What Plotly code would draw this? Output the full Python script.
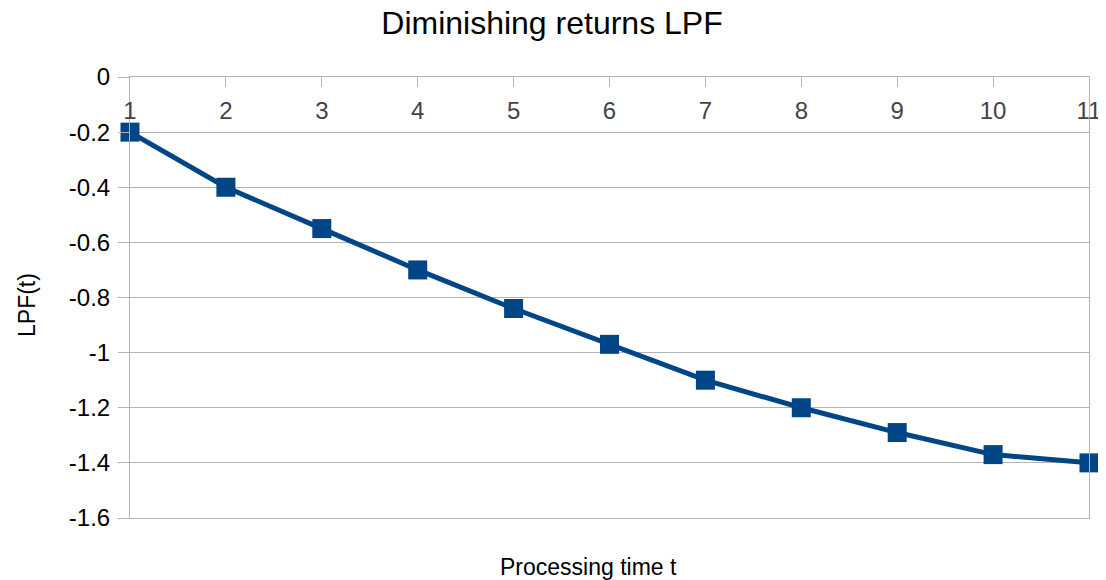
import plotly.graph_objects as go

t_values = [1, 2, 3, 4, 5, 6, 7, 8, 9, 10, 11]
lpf_values = [-0.2, -0.4, -0.55, -0.7, -0.84, -0.97, -1.1, -1.2, -1.29, -1.37, -1.4]
y_ticks = [0, -0.2, -0.4, -0.6, -0.8, -1, -1.2, -1.4, -1.6]
y_tick_labels = ["0", "-0.2", "-0.4", "-0.6", "-0.8", "-1", "-1.2", "-1.4", "-1.6"]

color = "#004586"
grid = "#b3b3b3"
font = "Liberation Sans"

# page body has an 8px margin; work in figure coordinates (reference - 8)
OFF = 8
W, H = 1106 - OFF, 580 - OFF
L, T = 130 - OFF, 77 - OFF
R = W - (1089 - OFF)
B = H - (518 - OFF)
pw, ph = W - L - R, H - T - B


def px_x(x):
    return (x - OFF - L) / pw


def px_y(y):
    return (H - B - (y - OFF)) / ph


fig = go.Figure()
fig.add_trace(go.Scatter(
    x=t_values, y=lpf_values, mode="lines+markers",
    line=dict(color=color, width=5),
    marker=dict(symbol="square", size=19, color=color),
    showlegend=False, cliponaxis=False,
))

fig.update_layout(
    width=W, height=H,
    margin=dict(l=L, r=R, t=T, b=B, autoexpand=False),
    paper_bgcolor="white", plot_bgcolor="white",
    font=dict(family=font, color="black"),
    title=dict(text="Diminishing returns LPF", xref="paper", x=px_x(552), xanchor="center",
               y=1 - (23 - OFF) / H, yanchor="middle", font=dict(size=32, family=font)),
    xaxis=dict(
        range=[1, 11], side="top", tickmode="array", tickvals=t_values,
        ticks="inside", ticklen=10, tickcolor=grid, tickwidth=1,
        ticklabelposition="inside", ticklabeloverflow="allow", ticklabelstandoff=17,
        tickfont=dict(size=24),
        showline=True, linecolor=grid, linewidth=1, mirror=True,
        showgrid=False, zeroline=False, automargin=False,
    ),
    yaxis=dict(
        range=[-1.6, 0], tickmode="array", tickvals=y_ticks, ticktext=y_tick_labels,
        ticks="outside", ticklen=11, tickcolor=grid, tickwidth=1, ticklabelstandoff=3,
        ticklabeloverflow="allow", tickfont=dict(size=24),
        showline=True, linecolor=grid, linewidth=1, mirror=True,
        showgrid=True, gridcolor=grid, gridwidth=1, zeroline=False, automargin=False,
    ),
    annotations=[
        dict(text="Processing time t", xref="paper", yref="paper",
             x=px_x(588), y=px_y(567), xanchor="center", yanchor="middle",
             showarrow=False, font=dict(size=23, family=font)),
        dict(text="LPF(t)", xref="paper", yref="paper", textangle=-90,
             x=px_x(27), y=px_y(305), xanchor="center", yanchor="middle",
             showarrow=False, font=dict(size=23, family=font)),
    ],
)

fig.write_html("out.html")
